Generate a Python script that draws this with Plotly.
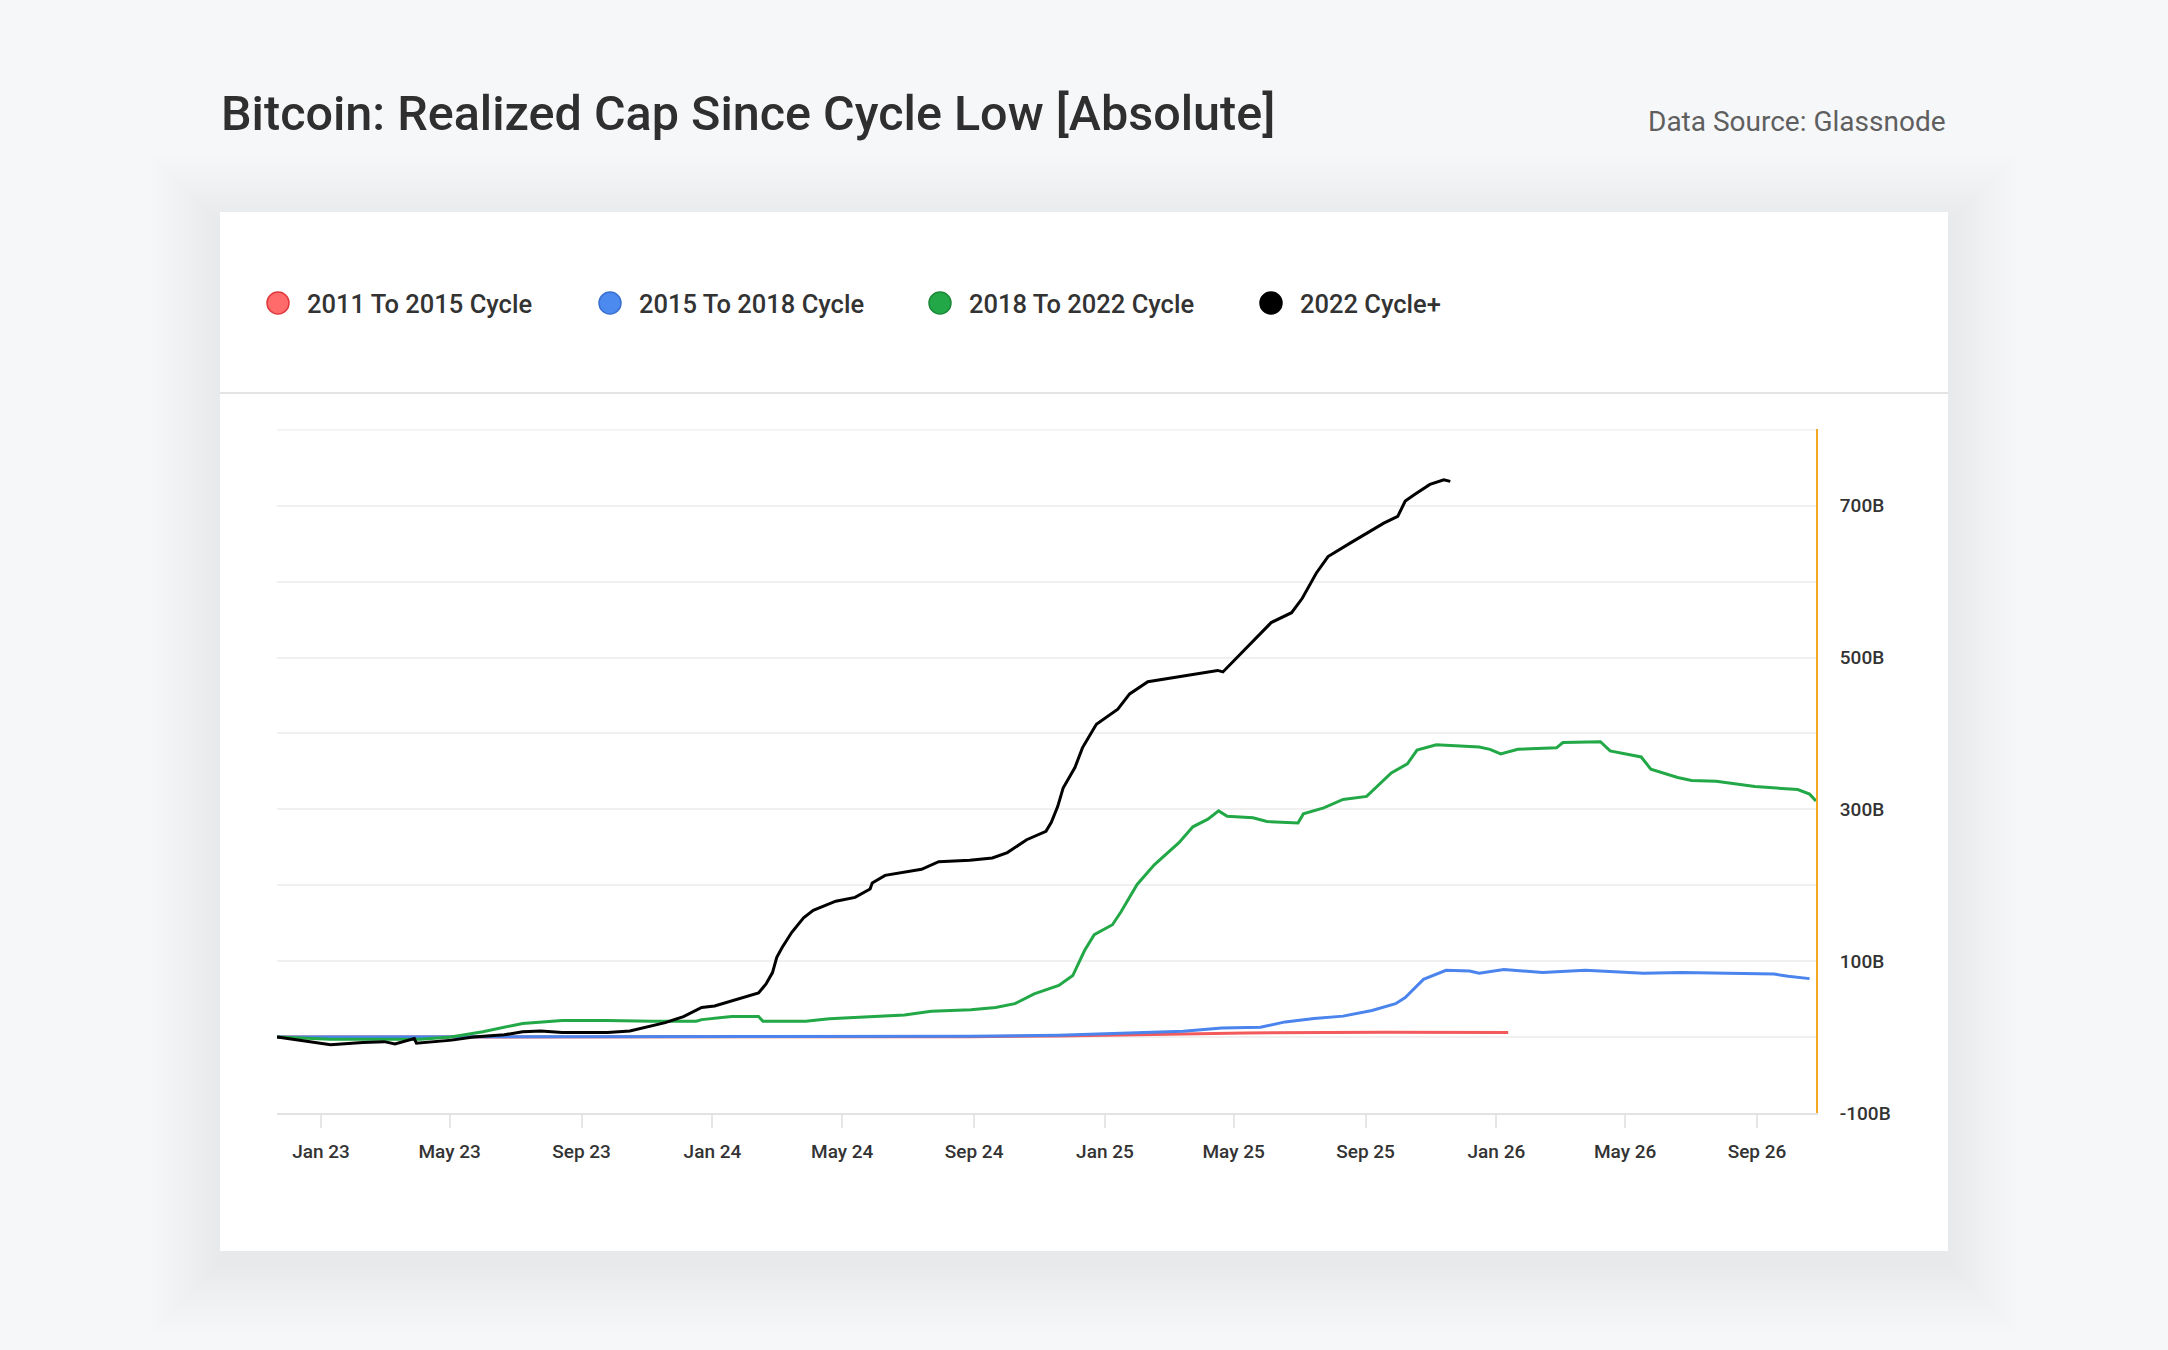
import pandas as pd
import plotly.graph_objects as go

# ---------------- data (days since 2022 cycle low, value in $B) ----------------
cycle_low = "2022-11-21"

series_names = ["2011 To 2015 Cycle", "2015 To 2018 Cycle", "2018 To 2022 Cycle", "2022 Cycle+"]

days_red = [0, 517, 646, 729, 839, 903, 1032, 1148]
vals_red = [0, 0, 0.5, 1.5, 4, 5.5, 6.5, 6]

days_blue = [0, 260, 517, 646, 729, 769, 845, 881, 917, 940, 967, 994, 1021, 1043, 1052, 1069,
             1090, 1112, 1121, 1144, 1180, 1220, 1274, 1310, 1355, 1396, 1409, 1429]
vals_blue = [0, 0.3, 0.8, 1.2, 2.5, 4.5, 7.8, 12, 13, 20, 24.5, 27.6, 35, 44, 52, 76,
             88, 87, 84, 89, 85, 88, 84, 85, 84, 83, 80, 77]

days_green = [0, 50, 134, 162, 192, 229, 266, 307, 350, 391, 396, 424, 449, 453, 493, 515, 585, 610,
              647, 670, 688, 706, 729, 742, 753, 762, 779, 787, 802, 818, 841, 854, 868, 878, 886,
              910, 923, 952, 957, 976, 994, 1016, 1039, 1054, 1063, 1081, 1121, 1131, 1141, 1157,
              1193, 1199, 1234, 1243, 1272, 1281, 1306, 1319, 1342, 1378, 1418, 1429, 1435]
vals_green = [0, -3, -3, 0, 7, 18, 22, 22, 21, 21, 23, 27, 27, 21, 21, 24, 29, 34,
              36, 39, 44, 57, 68, 81, 114, 135, 148, 165, 201, 227, 256, 277, 287, 298, 291,
              289, 284, 282, 294, 302, 313, 317, 348, 360, 378, 385, 382, 379, 373, 379,
              381, 388, 389, 377, 369, 353, 342, 338, 337, 330, 326, 320, 311]

days_black = [0, 21, 50, 80, 100, 110, 121, 128, 130, 163, 183, 212, 229, 246, 266, 308, 329, 341,
              362, 379, 396, 408, 433, 449, 456, 462, 466, 471, 480, 491, 500, 521, 539, 553, 555,
              567, 601, 617, 646, 667, 681, 699, 717, 722, 728, 733, 744, 751, 756, 764, 784, 795,
              812, 834, 877, 882, 896, 915, 927, 946, 956, 969, 980, 1001, 1014, 1032, 1045, 1052,
              1060, 1075, 1088, 1094]
vals_black = [0, -4, -10, -7, -6, -9, -5, -2, -8, -4, 0, 3, 7, 8, 6, 6, 8, 12,
              19, 27, 39, 41, 52, 58, 70, 85, 105, 118, 138, 157, 167, 179, 184, 195, 203,
              213, 221, 231, 233, 236, 243, 260, 271, 283, 304, 328, 355, 381, 393, 412, 432, 452,
              468, 473, 483, 481, 501, 529, 546, 559, 578, 611, 633, 651, 662, 677, 686, 706,
              714, 728, 734, 732]

y_tick_vals = [-100, 0, 100, 200, 300, 400, 500, 600, 700, 800]
y_tick_text = ["-100B", "", "100B", "", "300B", "", "500B", "", "700B", ""]
x_range = ["2022-11-21", "2026-10-26"]
y_range = [-100, 801]
y_top_grid = 800

# ---------------- styling ----------------
line_colors = ["#f25a5c", "#4a84ec", "#22a846", "#000000"]
legend_fill = ["#ff6b6b", "#4d8af0", "#22a846", "#000000"]
legend_edge = ["#e0383b", "#3a70d0", "#1b8a38", "#000000"]
grid_color = "#f0f0f0"

W, H = 2168, 1350
L, R, T, B = 277, 1816, 429, 1113


def px(x):
    return (x - L) / (R - L)


def py(y):
    return (B - y) / (B - T)


base = pd.Timestamp(cycle_low)


def to_dates(days):
    return [base + pd.Timedelta(days=d) for d in days]


fig = go.Figure()
all_days = [days_red, days_blue, days_green, days_black]
all_vals = [vals_red, vals_blue, vals_green, vals_black]
for name, d, v, c in zip(series_names, all_days, all_vals, line_colors):
    fig.add_trace(go.Scatter(
        x=to_dates(d), y=v, mode="lines", name=name,
        line=dict(color=c, width=3, shape="linear"),
        showlegend=False, hoverinfo="skip",
    ))

shapes = []
# soft card shadow
for i in range(14):
    g = 3 + i * 5
    shapes.append(dict(type="rect", xref="paper", yref="paper", layer="below",
                       x0=px(220 - g), x1=px(1948 + g), y0=py(212 - g + 12), y1=py(1251 + g + 12),
                       line=dict(width=0), fillcolor="rgba(40,50,70,0.0022)"))
# card
shapes.append(dict(type="rect", xref="paper", yref="paper", layer="below",
                   x0=px(220), x1=px(1948), y0=py(212), y1=py(1251),
                   line=dict(width=0), fillcolor="#ffffff"))
# divider under legend
shapes.append(dict(type="line", xref="paper", yref="paper", layer="below",
                   x0=px(220), x1=px(1948), y0=py(393), y1=py(393),
                   line=dict(color="#e4e4e4", width=2)))
# top gridline (at the range edge, which plotly skips)
shapes.append(dict(type="line", xref="paper", yref="y", layer="below",
                   x0=0, x1=1, y0=y_top_grid, y1=y_top_grid,
                   line=dict(color=grid_color, width=1.5)))

annotations = [
    dict(text="Bitcoin: Realized Cap Since Cycle Low [Absolute]", xref="paper", yref="paper",
         x=px(219), y=py(113), xanchor="left", yanchor="middle", showarrow=False,
         font=dict(family="Roboto", size=48.5, color="#2f2f2f", weight=500)),
    dict(text="Data Source: Glassnode", xref="paper", yref="paper",
         x=px(1948), y=py(121), xanchor="right", yanchor="middle", showarrow=False,
         font=dict(family="Roboto", size=28, color="#5f5f5f")),
]

legend_x = [278, 610, 940, 1271]
legend_y = 303
for name, lx, fc, ec in zip(series_names, legend_x, legend_fill, legend_edge):
    shapes.append(dict(type="circle", xref="paper", yref="paper", layer="above",
                       xsizemode="pixel", ysizemode="pixel",
                       xanchor=px(lx), yanchor=py(legend_y),
                       x0=-11, x1=11, y0=-11, y1=11,
                       fillcolor=fc, line=dict(color=ec, width=1.5)))
    annotations.append(dict(text=name, xref="paper", yref="paper",
                            x=px(lx + 27), y=py(legend_y + 1), xanchor="left", yanchor="middle",
                            showarrow=False,
                            font=dict(family="Roboto", size=25.5, color="#333333", weight=500)))

fig.update_layout(
    width=W, height=H,
    margin=dict(l=L, r=W - R, t=T, b=H - B, pad=0),
    paper_bgcolor="#f6f7f9",
    plot_bgcolor="rgba(0,0,0,0)",
    shapes=shapes,
    annotations=annotations,
    showlegend=False,
    hovermode=False,
)

fig.update_xaxes(
    type="date", range=x_range,
    tick0="2023-01-01", dtick="M4", tickformat="%b %y",
    showgrid=False, zeroline=False,
    showline=True, linecolor="#e2e2e2", linewidth=2,
    ticks="outside", ticklen=13, tickcolor="#e6e6e6", tickwidth=1.5,
    ticklabelstandoff=7,
    tickfont=dict(family="Roboto", size=19, color="#333333", weight=500),
)

fig.update_yaxes(
    side="right", range=y_range,
    tickmode="array", tickvals=y_tick_vals, ticktext=y_tick_text,
    showgrid=True, gridcolor=grid_color, gridwidth=1.5,
    zeroline=False,
    showline=True, linecolor="#f5a623", linewidth=2,
    ticks="", ticklabelstandoff=18,
    tickfont=dict(family="Roboto", size=19, color="#333333", weight=500),
)

fig.write_html("out.html", config={"displayModeBar": False},
               post_script="document.body.style.margin='0';document.body.style.overflow='hidden';")
